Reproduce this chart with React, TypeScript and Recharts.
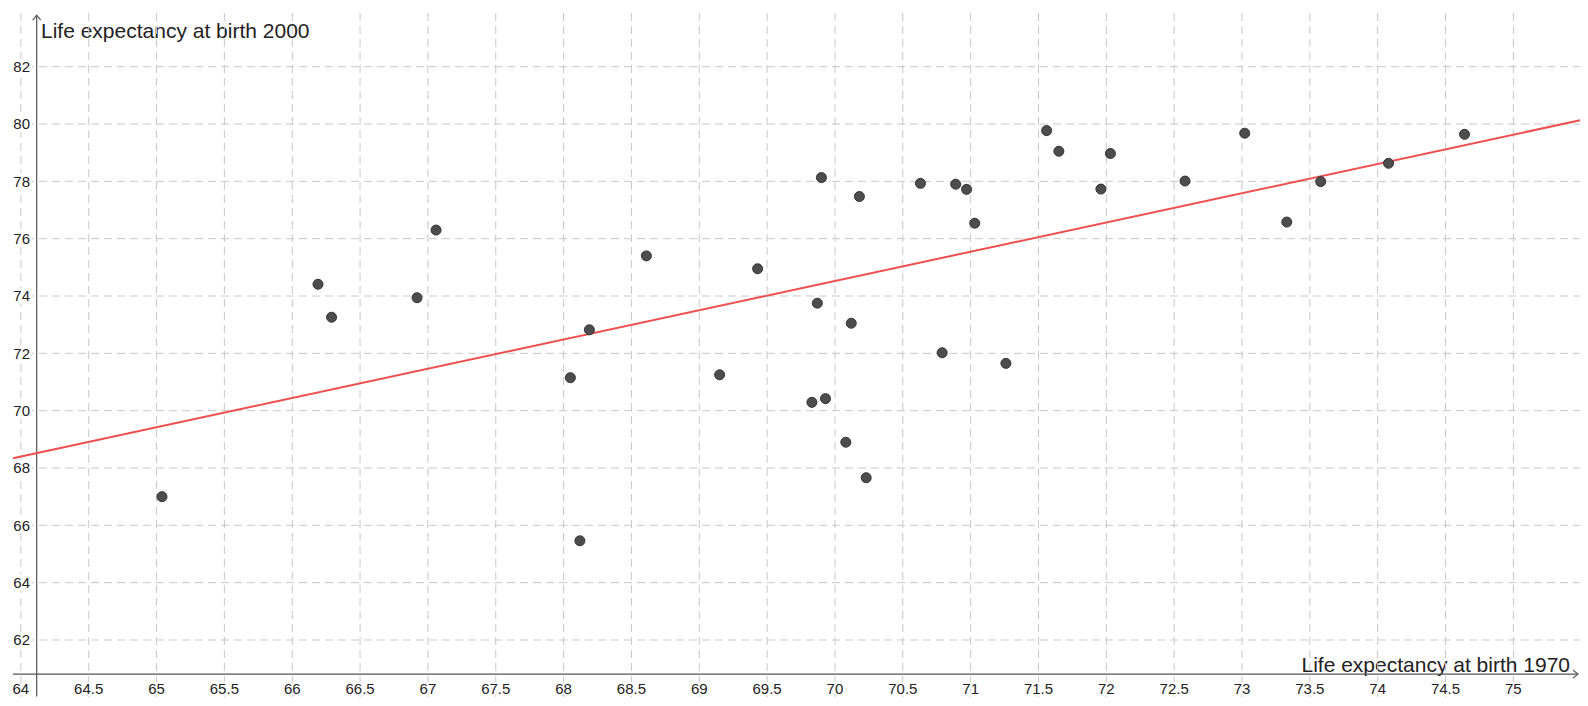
import React from 'react';
import {
  ComposedChart,
  Scatter,
  XAxis,
  YAxis,
  ReferenceLine,
  Customized,
} from 'recharts';

// Life expectancy at birth 1970 (x) and 2000 (y)
const le1970 = [
  65.04, 66.19, 66.29, 66.92, 67.06,
  68.61, 69.43, 68.19, 68.05, 69.15, 68.12,
  69.9, 70.18, 70.63, 70.89, 70.97, 71.03, 69.87, 70.12, 70.79, 71.26, 69.83, 69.93, 70.08, 70.23,
  71.56, 71.65, 72.03, 71.96, 72.58, 73.02,
  73.33, 73.58, 74.08, 74.64,
];
const le2000 = [
  67.0, 74.41, 73.26, 73.94, 76.3,
  75.4, 74.95, 72.82, 71.15, 71.25, 65.46,
  78.13, 77.47, 77.93, 77.9, 77.72, 76.54, 73.75, 73.05, 72.02, 71.65, 70.29, 70.42, 68.9, 67.66,
  79.77, 79.05, 78.97, 77.73, 78.01, 79.68,
  76.58, 77.99, 78.63, 79.64,
];

// regression line end points
const fitX = [63.942, 75.491];
const fitY = [68.34, 80.13];

const xTicks = [64, 64.5, 65, 65.5, 66, 66.5, 67, 67.5, 68, 68.5, 69, 69.5, 70, 70.5, 71, 71.5, 72, 72.5, 73, 73.5, 74, 74.5, 75];
const yTicks = [62, 64, 66, 68, 70, 72, 74, 76, 78, 80, 82];

const xTitle = 'Life expectancy at birth 1970';
const yTitle = 'Life expectancy at birth 2000';

const X_DOMAIN: [number, number] = [63.942, 75.491];
const Y_DOMAIN: [number, number] = [60.011, 83.873];
const Y_AXIS_AT_X = 64.1165;
const X_AXIS_AT_Y = 60.81;

const points = le1970.map((x, i) => ({ x, y: le2000[i] }));

const FONT = '"Liberation Sans", Arial, Helvetica, sans-serif';
const AXIS_COLOR = '#555';
const GRID_COLOR = '#c8c8c8';

const XLabel = (props: any) => {
  const { viewBox, value } = props;
  return (
    <text
      x={viewBox.x}
      y={694}
      textAnchor="middle"
      fontSize={15}
      fill="#222"
      fontFamily={FONT}
      stroke="#fff"
      strokeWidth={4}
      paintOrder="stroke"
      strokeLinejoin="round"
    >
      {value}
    </text>
  );
};

const YLabel = (props: any) => {
  const { viewBox, value } = props;
  return (
    <g>
      <rect x={12} y={viewBox.y - 8} width={20} height={16} fill="#fff" />
      <text x={30} y={viewBox.y + 5.3} textAnchor="end" fontSize={15} fill="#222" fontFamily={FONT}>
        {value}
      </text>
    </g>
  );
};

const VArrow = (props: any) => {
  const { x1, y1, x2, y2 } = props;
  return (
    <g>
      <line x1={x1} y1={y1} x2={x2} y2={y2} stroke={AXIS_COLOR} strokeWidth={1.2} />
      <path d={`M${x2 - 4},${y2 + 5} L${x2},${y2} L${x2 + 4},${y2 + 5}`} fill="none" stroke={AXIS_COLOR} strokeWidth={1.2} />
    </g>
  );
};

const HArrow = (props: any) => {
  const { x1, y1, x2, y2 } = props;
  return (
    <g>
      <line x1={x1} y1={y1} x2={x2} y2={y2} stroke={AXIS_COLOR} strokeWidth={1.2} />
      <path d={`M${x2 - 5},${y2 - 4} L${x2},${y2} L${x2 - 5},${y2 + 4}`} fill="none" stroke={AXIS_COLOR} strokeWidth={1.2} />
    </g>
  );
};

const Dot = (props: any) => {
  const { cx, cy } = props;
  if (cx == null || cy == null) return null;
  return <circle cx={cx} cy={cy} r={5} fill="#4d4d4d" stroke="#333" strokeWidth={1} />;
};

const Titles = () => (
  <g fontFamily={FONT} fill="#222" fontSize={21}>
    <text x={41} y={37.5}>{yTitle}</text>
    <text x={1570} y={671.5} textAnchor="end">{xTitle}</text>
  </g>
);

export default function App() {
  return (
    <div style={{ position: 'absolute', left: 0, top: 0, width: 1588, height: 706, background: '#fff' }}>
      <ComposedChart width={1588} height={706} margin={{ top: 13, right: 8, bottom: 9, left: 13 }}>
        <XAxis type="number" dataKey="x" domain={X_DOMAIN} allowDataOverflow hide />
        <YAxis type="number" dataKey="y" domain={Y_DOMAIN} allowDataOverflow hide />

        {/* grid */}
        {xTicks.map((t) => (
          <ReferenceLine key={`gx${t}`} x={t} stroke={GRID_COLOR} strokeDasharray="8 5" strokeWidth={1} />
        ))}
        {yTicks.map((t) => (
          <ReferenceLine key={`gy${t}`} y={t} stroke={GRID_COLOR} strokeDasharray="8 5" strokeWidth={1} />
        ))}

        {/* axes */}
        <ReferenceLine
          segment={[{ x: Y_AXIS_AT_X, y: Y_DOMAIN[0] + 0.02 }, { x: Y_AXIS_AT_X, y: 83.8 }]}
          ifOverflow="visible"
          shape={VArrow}
        />
        <ReferenceLine
          segment={[{ x: X_DOMAIN[0], y: X_AXIS_AT_Y }, { x: 75.476, y: X_AXIS_AT_Y }]}
          ifOverflow="visible"
          shape={HArrow}
        />

        {/* tick labels */}
        {xTicks.map((t) => (
          <ReferenceLine
            key={`lx${t}`}
            x={t}
            stroke="none"
            label={<XLabel value={String(t)} />}
          />
        ))}
        {yTicks.map((t) => (
          <ReferenceLine
            key={`ly${t}`}
            y={t}
            stroke="none"
            label={<YLabel value={String(t)} />}
          />
        ))}

        <Scatter data={points} dataKey="y" shape={Dot} isAnimationActive={false} />
        <ReferenceLine
          segment={[{ x: fitX[0], y: fitY[0] }, { x: fitX[1], y: fitY[1] }]}
          ifOverflow="visible"
          stroke="#ef4f4f"
          strokeWidth={2}
        />
        <Customized component={<Titles />} />
      </ComposedChart>
    </div>
  );
}
